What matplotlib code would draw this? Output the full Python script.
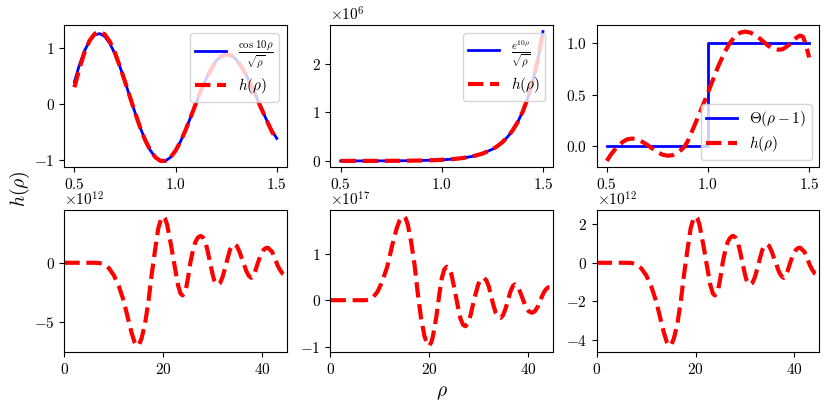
import matplotlib
matplotlib.use("Agg")
import matplotlib.pyplot as plt
import numpy as np

plt.rcParams['font.family'] = 'serif'
plt.rcParams['font.serif'] = ['cmr10', 'DejaVu Serif']
plt.rcParams['mathtext.fontset'] = 'cm'
plt.rcParams['axes.formatter.use_mathtext'] = True
plt.rcParams['font.size'] = 11

# ---------------- top-left: cos(10 rho)/sqrt(rho) ----------------
rho_a = [0.5, 0.525, 0.55, 0.575, 0.6, 0.625, 0.65, 0.675, 0.7, 0.725, 0.75, 0.775,
         0.8, 0.825, 0.85, 0.875, 0.9, 0.925, 0.95, 0.975, 1.0, 1.025, 1.05, 1.075,
         1.1, 1.125, 1.15, 1.175, 1.2, 1.225, 1.25, 1.275, 1.3, 1.325, 1.35, 1.375,
         1.4, 1.425, 1.45, 1.475, 1.5]
cos_exact = [0.401, 0.707, 0.956, 1.136, 1.240, 1.264, 1.211, 1.087, 0.901, 0.667,
             0.400, 0.118, -0.163, -0.425, -0.653, -0.835, -0.960, -1.024, -1.023,
             -0.960, -0.839, -0.670, -0.464, -0.232, 0.004, 0.235, 0.443, 0.621,
             0.770, 0.857, 0.893, 0.872, 0.796, 0.673, 0.512, 0.326, 0.116, -0.092,
             -0.291, -0.474, -0.620]
cos_h = [0.30, 0.64, 0.93, 1.14, 1.26, 1.30, 1.25, 1.12, 0.92, 0.67,
         0.40, 0.118, -0.163, -0.425, -0.653, -0.835, -0.960, -1.024, -1.023,
         -0.960, -0.839, -0.670, -0.464, -0.232, 0.004, 0.235, 0.443, 0.621,
         0.770, 0.857, 0.893, 0.872, 0.796, 0.673, 0.512, 0.326, 0.116, -0.092,
         -0.295, -0.49, -0.65]

# ---------------- top-middle: e^(10 rho)/sqrt(rho) ----------------
rho_b = [0.5, 0.55, 0.6, 0.65, 0.7, 0.75, 0.8, 0.85, 0.9, 0.95, 1.0, 1.05, 1.1,
         1.15, 1.2, 1.25, 1.275, 1.3, 1.325, 1.35, 1.375, 1.4, 1.425, 1.45, 1.475, 1.5]
exp_exact = [210, 330, 521, 825, 1311, 2088, 3333, 5331, 8541, 13707, 22026, 35441,
             57088, 92053, 148580, 240015, 305120, 388013, 493500, 627770, 798700,
             1016400, 1293600, 1646536, 2096200, 2669239]
exp_h = list(exp_exact)

# ---------------- top-right: Heaviside ----------------
rho_step = [0.5, 1.0, 1.0, 1.5]
step_exact = [0.0, 0.0, 1.0, 1.0]
rho_c = [0.5, 0.52, 0.54, 0.56, 0.58, 0.6, 0.625, 0.65, 0.675, 0.7, 0.725, 0.75,
         0.775, 0.8, 0.825, 0.85, 0.87, 0.885, 0.9, 0.92, 0.95, 0.98, 1.0, 1.03,
         1.05, 1.08, 1.105, 1.135, 1.16, 1.185, 1.21, 1.24, 1.27, 1.3, 1.33, 1.35,
         1.37, 1.4, 1.42, 1.44, 1.455, 1.47, 1.485, 1.5]
step_h = [-0.14, -0.08, -0.03, 0.01, 0.045, 0.068, 0.076, 0.068, 0.045, 0.015,
          -0.02, -0.055, -0.08, -0.09, -0.085, -0.06, -0.03, 0.0, 0.05, 0.14, 0.28,
          0.42, 0.52, 0.67, 0.77, 0.90, 0.99, 1.07, 1.10, 1.11, 1.10, 1.07, 1.02,
          0.97, 0.94, 0.935, 0.94, 0.98, 1.02, 1.055, 1.072, 1.06, 0.98, 0.86]

# ---------------- bottom row ----------------
t_a = [0, 6, 7, 8, 9, 10, 11, 12, 13, 13.6, 14.2, 14.5, 14.8, 15.1, 15.6, 16.3, 17.0,
       17.6, 18.3, 19.0, 19.5, 19.8, 20.0, 20.4, 20.8, 21.2, 21.7, 22.1, 22.4, 23.0,
       23.5, 23.9, 24.3, 24.6, 25.0, 25.5, 26.1, 26.5, 26.9, 27.3, 27.6, 28.0, 28.5,
       29.0, 29.5, 30.0, 30.3, 30.7, 31.0, 31.5, 32.0, 32.5, 33.0, 33.5, 34.0, 34.4,
       34.9, 35.4, 35.9, 36.3, 36.8, 37.3, 37.8, 38.3, 38.6, 39.1, 39.7, 40.3, 40.8,
       41.2, 41.7, 42.0, 42.5, 43.1, 43.6, 44.1, 44.7, 45.0]
h_a = [0, 0, -0.02, -0.12, -0.45, -1.05, -1.95, -3.2, -4.9, -5.9, -6.7, -6.92, -7.0,
       -6.9, -6.4, -5.2, -3.3, -1.2, 0.93, 2.9, 3.6, 3.85, 3.9, 3.7, 3.2, 2.3, 1.2,
       0.2, -0.5, -1.9, -2.6, -2.75, -2.55, -2.2, -1.3, 0.05, 1.2, 1.75, 2.06, 2.22,
       2.26, 2.15, 1.8, 0.95, -0.05, -1.0, -1.47, -1.78, -1.84, -1.7, -1.2, -0.45,
       0.35, 1.1, 1.48, 1.55, 1.4, 0.95, 0.35, -0.1, -0.7, -1.1, -1.27, -1.05, -0.7,
       -0.05, 0.65, 1.1, 1.25, 1.25, 1.05, 0.93, 0.45, -0.2, -0.6, -0.9, -1.05, -1.05]

t_b = [0, 7, 7.8, 8.5, 9.5, 10.5, 11.5, 12.5, 13.4, 14.0, 14.4, 14.8, 15.2, 15.6, 16.3,
       17.0, 17.6, 18.3, 19.0, 19.5, 20.0, 20.4, 20.7, 21.4, 22.0, 22.5, 23.0, 23.5,
       24.0, 24.4, 25.1, 25.8, 26.3, 26.8, 27.3, 27.8, 28.3, 28.8, 29.3, 29.9, 30.4,
       31.0, 31.5, 32.0, 32.5, 32.9, 33.4, 33.9, 34.4, 34.9, 35.4, 35.9, 36.4, 36.9,
       37.3, 37.8, 38.3, 38.9, 39.5, 40.1, 40.7, 41.3, 41.9, 42.5, 43.1, 43.6, 44.1,
       44.6, 45.0]
h_b = [0, 0, 0.01, 0.05, 0.18, 0.41, 0.73, 1.19, 1.55, 1.72, 1.78, 1.80, 1.76, 1.64,
       1.26, 0.76, 0.19, -0.38, -0.77, -0.93, -0.98, -0.90, -0.78, -0.36, 0.12, 0.47,
       0.66, 0.72, 0.68, 0.58, 0.23, -0.16, -0.40, -0.53, -0.56, -0.49, -0.33, -0.10,
       0.12, 0.35, 0.45, 0.48, 0.43, 0.30, 0.08, -0.09, -0.27, -0.36, -0.38, -0.32,
       -0.18, 0.0, 0.19, 0.31, 0.34, 0.30, 0.19, 0.02, -0.14, -0.24, -0.27, -0.24,
       -0.14, 0.02, 0.16, 0.24, 0.28, 0.28, 0.26]

t_c = list(t_a)
h_c = [0, 0, -0.01, -0.07, -0.28, -0.64, -1.2, -1.96, -3.0, -3.62, -4.11, -4.24,
       -4.29, -4.23, -3.92, -3.19, -2.02, -0.74, 0.57, 1.78, 2.21, 2.36, 2.39, 2.27,
       1.96, 1.41, 0.74, 0.12, -0.31, -1.16, -1.59, -1.69, -1.56, -1.35, -0.8, 0.03,
       0.74, 1.07, 1.26, 1.36, 1.39, 1.32, 1.1, 0.58, -0.03, -0.61, -0.9, -1.09,
       -1.13, -1.04, -0.74, -0.28, 0.21, 0.67, 0.91, 0.95, 0.86, 0.58, 0.21, -0.06,
       -0.43, -0.67, -0.78, -0.64, -0.43, -0.03, 0.4, 0.67, 0.77, 0.77, 0.64, 0.57,
       0.28, -0.12, -0.37, -0.55, -0.64, -0.64]

scale_a = 1e12
scale_b = 1e17
scale_c = 1e12

rho_ticks = [0.5, 1.0, 1.5]
t_ticks = [0, 20, 40]
yt_cos = [-1, 0, 1]
yt_exp = [0, 1e6, 2e6]
yt_step = [0.0, 0.5, 1.0]
yt_a = [-5e12, 0]
yt_b = [-1e17, 0, 1e17]
yt_c = [-4e12, -2e12, 0, 2e12]

fig, axes = plt.subplots(2, 3, figsize=(8.3, 4.12), dpi=100)
fig.subplots_adjust(left=0.0775, right=0.987, top=0.939, bottom=0.145,
                    wspace=0.196, hspace=0.30)

blue = dict(color='blue', lw=2.0)
red = dict(color='red', lw=3.0, ls='--')
leg = dict(fontsize=11, handlelength=2.0, labelspacing=0.35, borderpad=0.35)

ax = axes[0, 0]
ax.plot(rho_a, cos_exact, label=r'$\frac{\cos\,10\rho}{\sqrt{\rho}}$', **blue)
ax.plot(rho_a, cos_h, label=r'$h(\rho)$', **red)
ax.legend(loc='upper right', **leg)
ax.set_xticks(rho_ticks)
ax.set_yticks(yt_cos)

ax = axes[0, 1]
ax.plot(rho_b, exp_exact, label=r'$\frac{e^{10\rho}}{\sqrt{\rho}}$', **blue)
ax.plot(rho_b, exp_h, label=r'$h(\rho)$', **red)
ax.legend(loc='upper right', **leg)
ax.set_xticks(rho_ticks)
ax.set_yticks(yt_exp)

ax = axes[0, 2]
ax.plot(rho_step, step_exact, label=r'$\Theta(\rho-1)$', **blue)
ax.plot(rho_c, step_h, label=r'$h(\rho)$', **red)
ax.legend(loc='lower right', **leg)
ax.set_xticks(rho_ticks)
ax.set_yticks(yt_step)

for ax, t, h, s, yt in [(axes[1, 0], t_a, h_a, scale_a, yt_a),
                        (axes[1, 1], t_b, h_b, scale_b, yt_b),
                        (axes[1, 2], t_c, h_c, scale_c, yt_c)]:
    ax.plot(t, np.array(h) * s, **red)
    ax.set_xlim(0, 45)
    ax.set_xticks(t_ticks)
    ax.set_yticks(yt)

fig.text(20 / 830, 1 - 189 / 412, r'$h(\rho)$', rotation=90, ha='center',
         va='center', fontsize=14)
fig.text(441.8 / 830, 1 - 393 / 412, r'$\rho$', ha='center', va='center',
         fontsize=14)

fig.savefig('out.png', dpi=100)
